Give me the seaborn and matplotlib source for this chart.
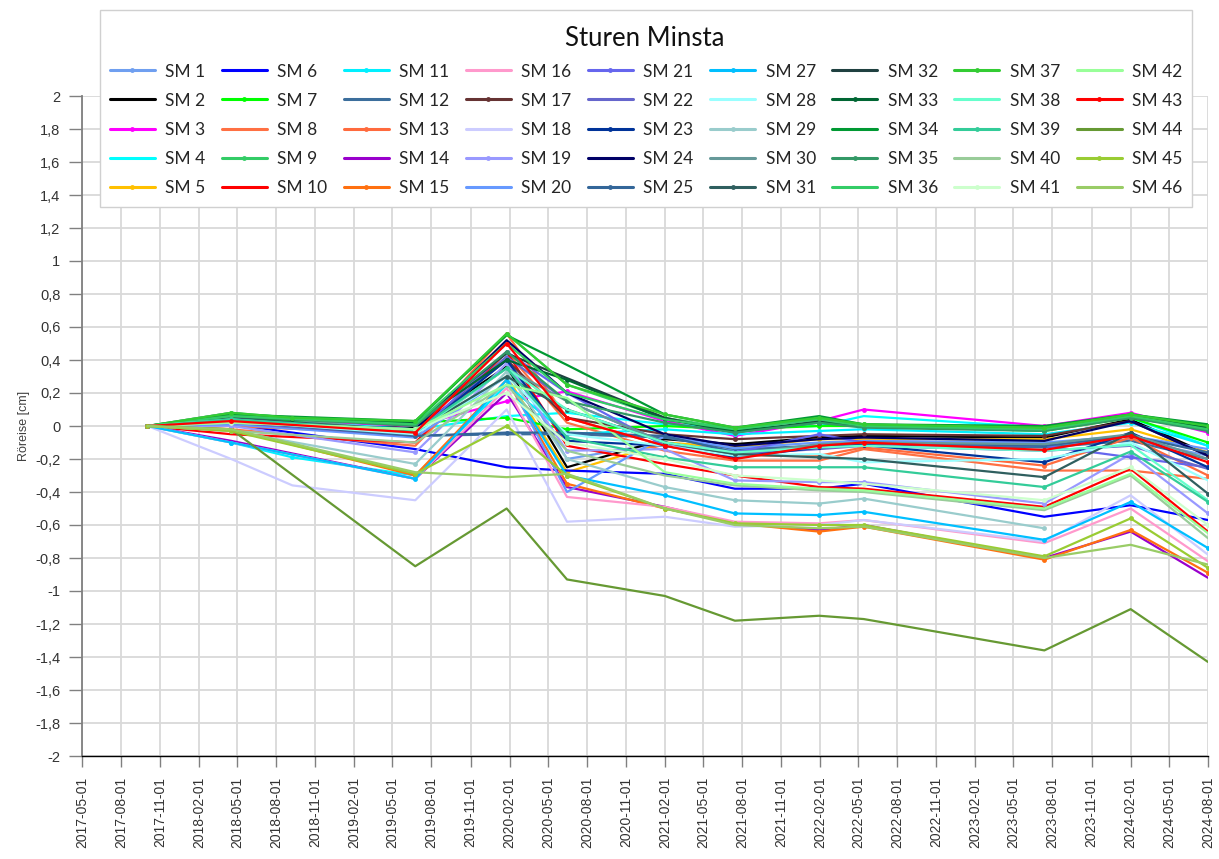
import numpy as np
import pandas as pd
import matplotlib
matplotlib.use("Agg")
import matplotlib.pyplot as plt
import matplotlib.dates as mdates
from matplotlib.patches import Rectangle
from matplotlib.ticker import FuncFormatter, MultipleLocator
import seaborn as sns

# Measurement dates
dates = pd.to_datetime(['2017-10-02', '2018-04-17', '2018-09-08', '2019-06-24', '2020-01-25',
                        '2020-06-15', '2021-01-31', '2021-07-15', '2022-01-29', '2022-05-14',
                        '2023-07-13', '2024-02-01', '2024-08-01'])
nan = np.nan

# Movement per point [cm], one list per measurement point
sm1 = [0, 0.02, nan, -0.05, 0.42, -0.20, -0.10, -0.15, -0.12, -0.10, -0.12, -0.08, -0.18]
sm2 = [0, 0.01, nan, -0.01, 0.36, -0.25, -0.08, -0.11, -0.07, -0.06, -0.07, 0.04, -0.17]
sm3 = [0, 0.07, 0.03, 0.00, 0.15, 0.21, 0.03, -0.06, 0.03, 0.10, 0.00, 0.08, -0.04]
sm4 = [0, 0.05, nan, -0.02, 0.06, 0.08, 0.01, -0.01, 0.00, 0.06, -0.01, 0.05, -0.12]
sm5 = [0, 0.00, nan, -0.04, 0.30, -0.28, -0.10, -0.13, -0.08, -0.08, -0.08, -0.02, -0.16]
sm6 = [0, 0.01, nan, -0.14, -0.25, -0.27, -0.29, -0.38, -0.38, -0.35, -0.55, -0.48, -0.57]
sm7 = [0, 0.04, nan, 0.02, 0.05, -0.02, 0.00, -0.02, 0.00, 0.00, -0.03, 0.05, -0.10]
sm8 = [0, -0.02, nan, -0.12, 0.45, 0.02, -0.15, -0.21, -0.21, -0.14, -0.27, -0.27, -0.32]
sm9 = [0, 0.08, 0.05, 0.02, 0.56, 0.25, 0.05, -0.02, 0.04, 0.01, -0.02, 0.07, 0.00]
sm10 = [0, -0.05, nan, -0.10, 0.45, -0.12, -0.23, -0.30, -0.37, -0.38, -0.49, -0.26, -0.64]
sm11 = [0, -0.10, -0.19, -0.30, 0.25, -0.05, -0.02, -0.05, -0.03, -0.02, -0.05, 0.02, -0.12]
sm12 = [0, 0.03, nan, -0.06, -0.05, -0.05, -0.07, -0.14, -0.12, -0.11, -0.13, -0.09, -0.20]
sm13 = [0, 0.00, nan, -0.05, 0.56, 0.05, -0.12, -0.18, -0.18, -0.13, -0.24, -0.07, -0.30]
sm14 = [0, -0.09, nan, -0.32, 0.20, -0.37, -0.49, -0.59, -0.63, -0.60, -0.80, -0.64, -0.92]
sm15 = [0, -0.02, nan, -0.30, 0.28, -0.35, -0.50, -0.59, -0.64, -0.61, -0.81, -0.63, -0.89]
sm16 = [0, -0.10, nan, -0.32, 0.23, -0.43, -0.49, -0.58, -0.59, -0.57, -0.71, -0.50, -0.82]
sm17 = [0, 0.02, nan, -0.03, 0.40, 0.05, -0.05, -0.08, -0.06, -0.05, -0.06, 0.03, -0.18]
sm18 = [0, -0.20, -0.36, -0.45, 0.10, -0.58, -0.55, -0.61, -0.60, -0.57, -0.70, -0.42, -0.78]
sm19 = [0, 0.00, nan, -0.16, 0.38, -0.15, -0.14, -0.33, -0.34, -0.34, -0.47, -0.17, -0.53]
sm20 = [0, 0.01, nan, -0.07, 0.30, -0.40, -0.06, -0.135, -0.10, -0.09, -0.10, -0.06, -0.14]
sm21 = [0, 0.02, nan, -0.05, 0.45, 0.20, -0.12, -0.16, -0.05, -0.10, -0.12, -0.19, -0.25]
sm22 = [0, 0.02, nan, -0.06, 0.42, 0.15, -0.10, -0.17, -0.14, -0.12, -0.15, -0.12, -0.26]
sm23 = [0, 0.03, nan, -0.05, 0.40, -0.09, -0.12, -0.19, -0.13, -0.115, -0.22, -0.04, -0.25]
sm24 = [0, 0.03, nan, -0.02, 0.52, 0.20, -0.05, -0.12, -0.08, -0.07, -0.09, 0.03, -0.18]
sm25 = [0, 0.03, nan, -0.06, -0.04, -0.04, -0.06, -0.16, -0.12, -0.10, -0.12, -0.06, -0.16]
sm27 = [0, -0.10, nan, -0.32, 0.28, -0.30, -0.42, -0.53, -0.54, -0.52, -0.69, -0.46, -0.74]
sm28 = [0, 0.03, nan, -0.05, 0.30, -0.05, -0.12, -0.18, -0.17, -0.22, -0.20, -0.10, -0.33]
sm29 = [0, -0.03, nan, -0.23, 0.33, -0.20, -0.37, -0.45, -0.47, -0.44, -0.62, nan, nan]
sm30 = [0, 0.08, nan, -0.04, 0.35, 0.15, -0.10, -0.17, -0.11, -0.10, -0.11, -0.05, -0.20]
sm31 = [0, 0.05, nan, -0.03, 0.30, 0.10, -0.10, -0.17, -0.19, -0.20, -0.31, -0.04, -0.41]
sm32 = [0, 0.06, nan, 0.01, 0.44, 0.29, 0.05, -0.04, 0.03, 0.00, -0.02, 0.05, -0.02]
sm33 = [0, 0.06, 0.04, 0.02, 0.40, 0.28, 0.04, -0.03, 0.02, 0.00, -0.01, 0.06, -0.01]
sm34 = [0, 0.07, nan, 0.03, 0.55, 0.37, 0.07, -0.01, 0.06, 0.01, 0.00, 0.07, 0.01]
sm35 = [0, 0.06, nan, 0.00, 0.45, 0.15, 0.02, -0.04, 0.02, -0.01, -0.03, 0.05, -0.03]
sm36 = [0, 0.06, nan, 0.01, 0.50, 0.20, 0.04, -0.02, 0.04, 0.00, -0.02, 0.06, -0.02]
sm37 = [0, 0.08, 0.05, 0.03, 0.56, 0.25, 0.07, -0.01, 0.05, 0.01, -0.01, 0.07, 0.00]
sm38 = [0, 0.04, nan, -0.04, 0.35, 0.10, -0.10, -0.16, -0.13, -0.12, -0.15, -0.115, -0.45]
sm39 = [0, 0.04, nan, -0.03, 0.35, -0.07, -0.19, -0.25, -0.25, -0.25, -0.37, -0.155, -0.46]
sm40 = [0, -0.03, nan, -0.10, 0.25, -0.15, -0.30, -0.36, -0.39, -0.40, -0.51, -0.30, -0.68]
sm41 = [0, 0.02, nan, -0.02, 0.20, -0.10, -0.20, -0.30, -0.33, -0.35, -0.45, -0.25, -0.60]
sm42 = [0, 0.02, nan, -0.02, 0.25, 0.17, -0.28, -0.35, -0.38, -0.39, -0.50, -0.29, -0.65]
sm43 = [0, 0.03, nan, -0.04, 0.50, 0.05, -0.12, -0.20, -0.12, -0.10, -0.145, -0.06, -0.22]
sm44 = [0, -0.02, nan, -0.85, -0.50, -0.93, -1.03, -1.18, -1.15, -1.17, -1.36, -1.11, -1.43]
sm45 = [0, -0.03, nan, -0.29, 0.00, -0.30, -0.50, -0.59, -0.60, -0.60, -0.79, -0.56, -0.86]
sm46 = [0, -0.02, nan, -0.28, -0.31, -0.29, -0.50, -0.60, -0.62, -0.61, -0.80, -0.72, -0.84]

series = {
    'SM 1': sm1, 'SM 2': sm2, 'SM 3': sm3, 'SM 4': sm4, 'SM 5': sm5,
    'SM 6': sm6, 'SM 7': sm7, 'SM 8': sm8, 'SM 9': sm9, 'SM 10': sm10,
    'SM 11': sm11, 'SM 12': sm12, 'SM 13': sm13, 'SM 14': sm14, 'SM 15': sm15,
    'SM 16': sm16, 'SM 17': sm17, 'SM 18': sm18, 'SM 19': sm19, 'SM 20': sm20,
    'SM 21': sm21, 'SM 22': sm22, 'SM 23': sm23, 'SM 24': sm24, 'SM 25': sm25,
    'SM 27': sm27, 'SM 28': sm28, 'SM 29': sm29, 'SM 30': sm30, 'SM 31': sm31,
    'SM 32': sm32, 'SM 33': sm33, 'SM 34': sm34, 'SM 35': sm35, 'SM 36': sm36,
    'SM 37': sm37, 'SM 38': sm38, 'SM 39': sm39, 'SM 40': sm40, 'SM 41': sm41,
    'SM 42': sm42, 'SM 43': sm43, 'SM 44': sm44, 'SM 45': sm45, 'SM 46': sm46,
}

colors = {
    'SM 1': '#6f9ff0', 'SM 2': '#000000', 'SM 3': '#ff00ff', 'SM 4': '#00ffff', 'SM 5': '#ffc000',
    'SM 6': '#0000ff', 'SM 7': '#00ff00', 'SM 8': '#ff7043', 'SM 9': '#33cc66', 'SM 10': '#ff0000',
    'SM 11': '#00f0ff', 'SM 12': '#3c6e9c', 'SM 13': '#ff6a3d', 'SM 14': '#9900cc', 'SM 15': '#ff7010',
    'SM 16': '#ff99cc', 'SM 17': '#663333', 'SM 18': '#ccccff', 'SM 19': '#9999ff', 'SM 20': '#6699ff',
    'SM 21': '#6666ee', 'SM 22': '#6666cc', 'SM 23': '#003399', 'SM 24': '#000066', 'SM 25': '#336699',
    'SM 27': '#00bfff', 'SM 28': '#99ffff', 'SM 29': '#99cccc', 'SM 30': '#669999', 'SM 31': '#2f5f5f',
    'SM 32': '#1f4040', 'SM 33': '#006633', 'SM 34': '#009933', 'SM 35': '#339966', 'SM 36': '#33cc66',
    'SM 37': '#33cc33', 'SM 38': '#66ffcc', 'SM 39': '#33cc99', 'SM 40': '#99cc99', 'SM 41': '#ccffcc',
    'SM 42': '#99ff99', 'SM 43': '#ff0000', 'SM 44': '#669933', 'SM 45': '#99cc33', 'SM 46': '#99cc66',
}

sns.set_theme(style="whitegrid")
plt.rcParams['font.family'] = ['Liberation Sans', 'DejaVu Sans']

W, H = 1219, 859
fig = plt.figure(figsize=(W / 100, H / 100), dpi=100)
ax = fig.add_axes([82 / W, 1 - 756 / H, 1126 / W, 660 / H])

for i, (name, vals) in enumerate(series.items()):
    s = pd.Series(vals, index=dates).dropna()
    # odd numbered points are drawn with small markers
    num = int(name.split()[1])
    mk = 'o' if num % 2 == 1 else None
    sns.lineplot(x=s.index, y=s.values, ax=ax, color=colors[name], lw=1.6,
                 marker=mk, markersize=3.5, markeredgewidth=0, label=name, zorder=2 + i * 0.01)

ax.set_xlim(pd.Timestamp('2017-05-01'), pd.Timestamp('2024-08-01'))
ax.set_ylim(-2, 2)
ax.set_xticks(pd.date_range('2017-05-01', '2024-08-01', freq='3MS'))
ax.xaxis.set_major_formatter(mdates.DateFormatter('%Y-%m-%d'))
ax.yaxis.set_major_locator(MultipleLocator(0.2))


def comma_fmt(v, pos):
    if abs(v) < 1e-9:
        return '0'
    return f"{round(v, 1):g}".replace('.', ',')


ax.yaxis.set_major_formatter(FuncFormatter(comma_fmt))
ax.tick_params(axis='x', labelrotation=90, labelsize=10, length=8, width=1,
               direction='out', bottom=True, pad=7, color='#808080')
ax.tick_params(axis='y', labelsize=10.5, length=9.5, width=1, direction='out',
               left=True, pad=6, color='#808080')
for lab in ax.get_xticklabels() + ax.get_yticklabels():
    lab.set_color('#333333')

ax.grid(True, color='#d9d9d9', lw=1.3)
ax.set_facecolor('white')
for side in ['top', 'right']:
    ax.spines[side].set_visible(False)
ax.spines['left'].set_color('#7f7f7f')
ax.spines['left'].set_linewidth(1.3)
ax.spines['bottom'].set_color('#000000')
ax.spines['bottom'].set_linewidth(1.0)
ax.set_xlabel('')
ax.set_ylabel('Röreise [cm]', fontsize=9, color='#404040', labelpad=4)

# legend box with the chart title inside it
box = Rectangle((100 / W, 1 - 207 / H), 1092 / W, 197 / H, transform=fig.transFigure,
                facecolor='white', edgecolor='#d0d0d0', lw=1.0, zorder=3)
fig.add_artist(box)
fig.text(645 / W, 1 - 39 / H, 'Sturen Minsta', ha='center', va='center',
         family='Lato', fontsize=18.5, color='#111111', zorder=4)

handles, labels = ax.get_legend_handles_labels()
ax.get_legend().remove()
leg = fig.legend(handles, labels, ncol=9, loc='upper left', mode='expand',
                 bbox_to_anchor=(100 / W, 1 - 207 / H, 1092 / W, 153 / H),
                 borderaxespad=0, frameon=False,
                 handlelength=2.6, handletextpad=0.6, labelspacing=0.75, borderpad=0.55,
                 prop={'family': 'Lato', 'size': 12.5})
leg.set_zorder(5)
for line in leg.get_lines():
    line.set_linewidth(2.2)

fig.savefig('out.png', dpi=100, facecolor='white')
